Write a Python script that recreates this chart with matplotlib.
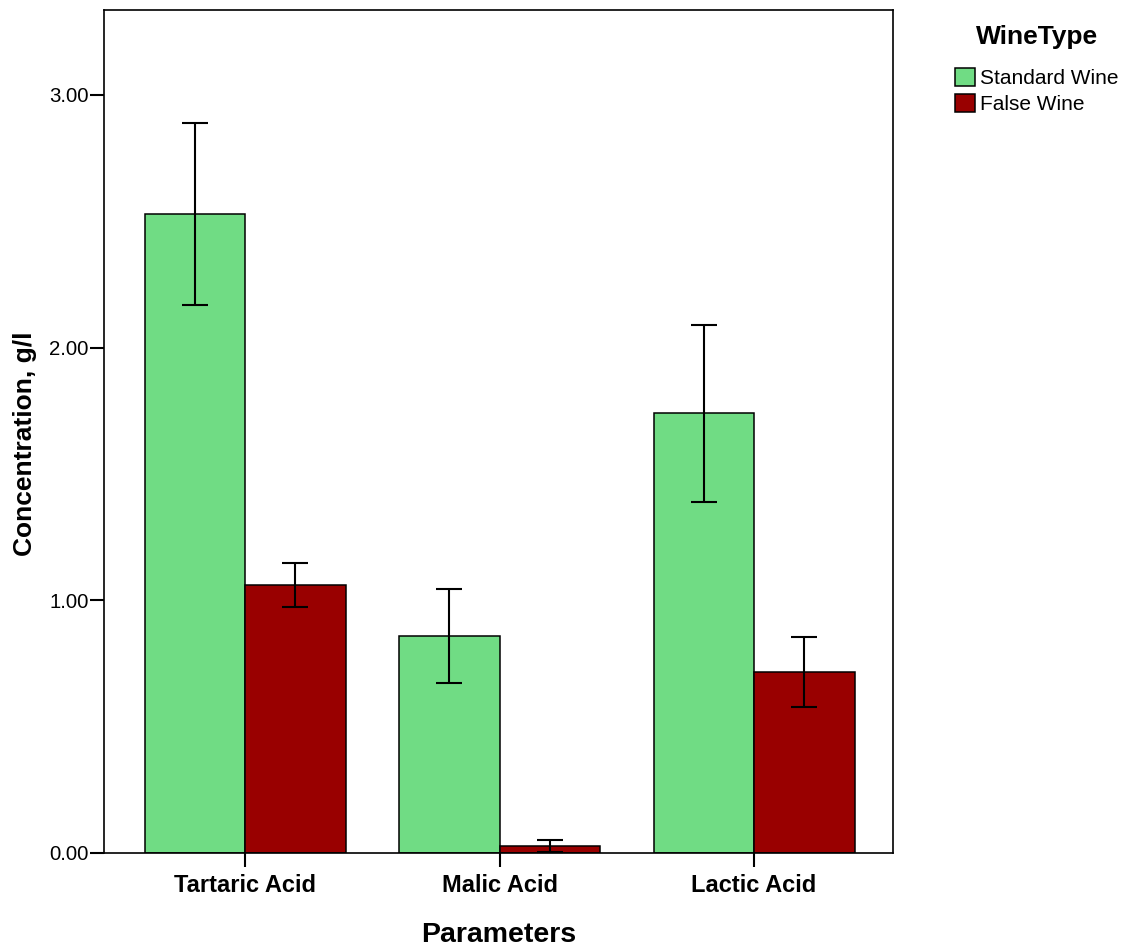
"""
Grouped bar chart of acid concentrations by wine type.
"""
import numpy as np
import matplotlib
matplotlib.use('Agg')
import matplotlib.pyplot as plt

categories = ['Tartaric Acid', 'Malic Acid', 'Lactic Acid']
standard_mean = [2.53, 0.86, 1.74]
standard_err = [0.36, 0.186, 0.35]
false_mean = [1.06, 0.028, 0.716]
false_err = [0.087, 0.024, 0.139]
series_labels = ['Standard Wine', 'False Wine']
colors = ['#70DC84', '#990000']

plt.rcParams['font.family'] = ['Liberation Sans', 'DejaVu Sans']

fig = plt.figure(figsize=(11.31, 9.49), dpi=100)
ax = fig.add_axes([0.092, 0.1012, 0.6976, 0.8883])

x = np.arange(len(categories))
width = 0.395
err_kw = dict(ecolor='black', elinewidth=1.5, capsize=9.2, capthick=1.5)

ax.bar(x - width / 2, standard_mean, width, yerr=standard_err, color=colors[0],
       edgecolor='black', linewidth=1.1, label=series_labels[0], error_kw=err_kw)
ax.bar(x + width / 2, false_mean, width, yerr=false_err, color=colors[1],
       edgecolor='black', linewidth=1.1, label=series_labels[1], error_kw=err_kw)

ax.set_xlim(-0.554, 2.546)
ax.set_ylim(0, 3.336)
ax.set_yticks([0, 1, 2, 3])
ax.set_yticklabels(['0.00', '1.00', '2.00', '3.00'], fontsize=14.7)
ax.set_xticks(x)
ax.set_xticklabels(categories, fontsize=17, fontweight='bold')
ax.tick_params(axis='both', direction='out', length=10, width=1.5)
ax.tick_params(axis='y', pad=1)
ax.tick_params(axis='x', pad=5)

for spine in ax.spines.values():
    spine.set_linewidth(1.2)

ax.set_xlabel('Parameters', fontsize=20.5, fontweight='bold', labelpad=18)
ax.set_ylabel('Concentration, g/l', fontsize=19, fontweight='bold')
ax.yaxis.set_label_coords(-0.085, 0.485)

# legend title drawn separately to get the larger gap above the entries
fig.text(0.9165, 0.9605, 'WineType', fontsize=19, fontweight='bold',
         ha='center', va='center')
leg = fig.legend(loc='upper left', bbox_to_anchor=(0.837, 0.937), frameon=False,
                 fontsize=15, handlelength=0.95, handleheight=0.95,
                 labelspacing=0.28, handletextpad=0.25, borderaxespad=0)
for patch in leg.get_patches():
    patch.set_edgecolor('black')
    patch.set_linewidth(1.1)

plt.savefig('out.png', dpi=100)
